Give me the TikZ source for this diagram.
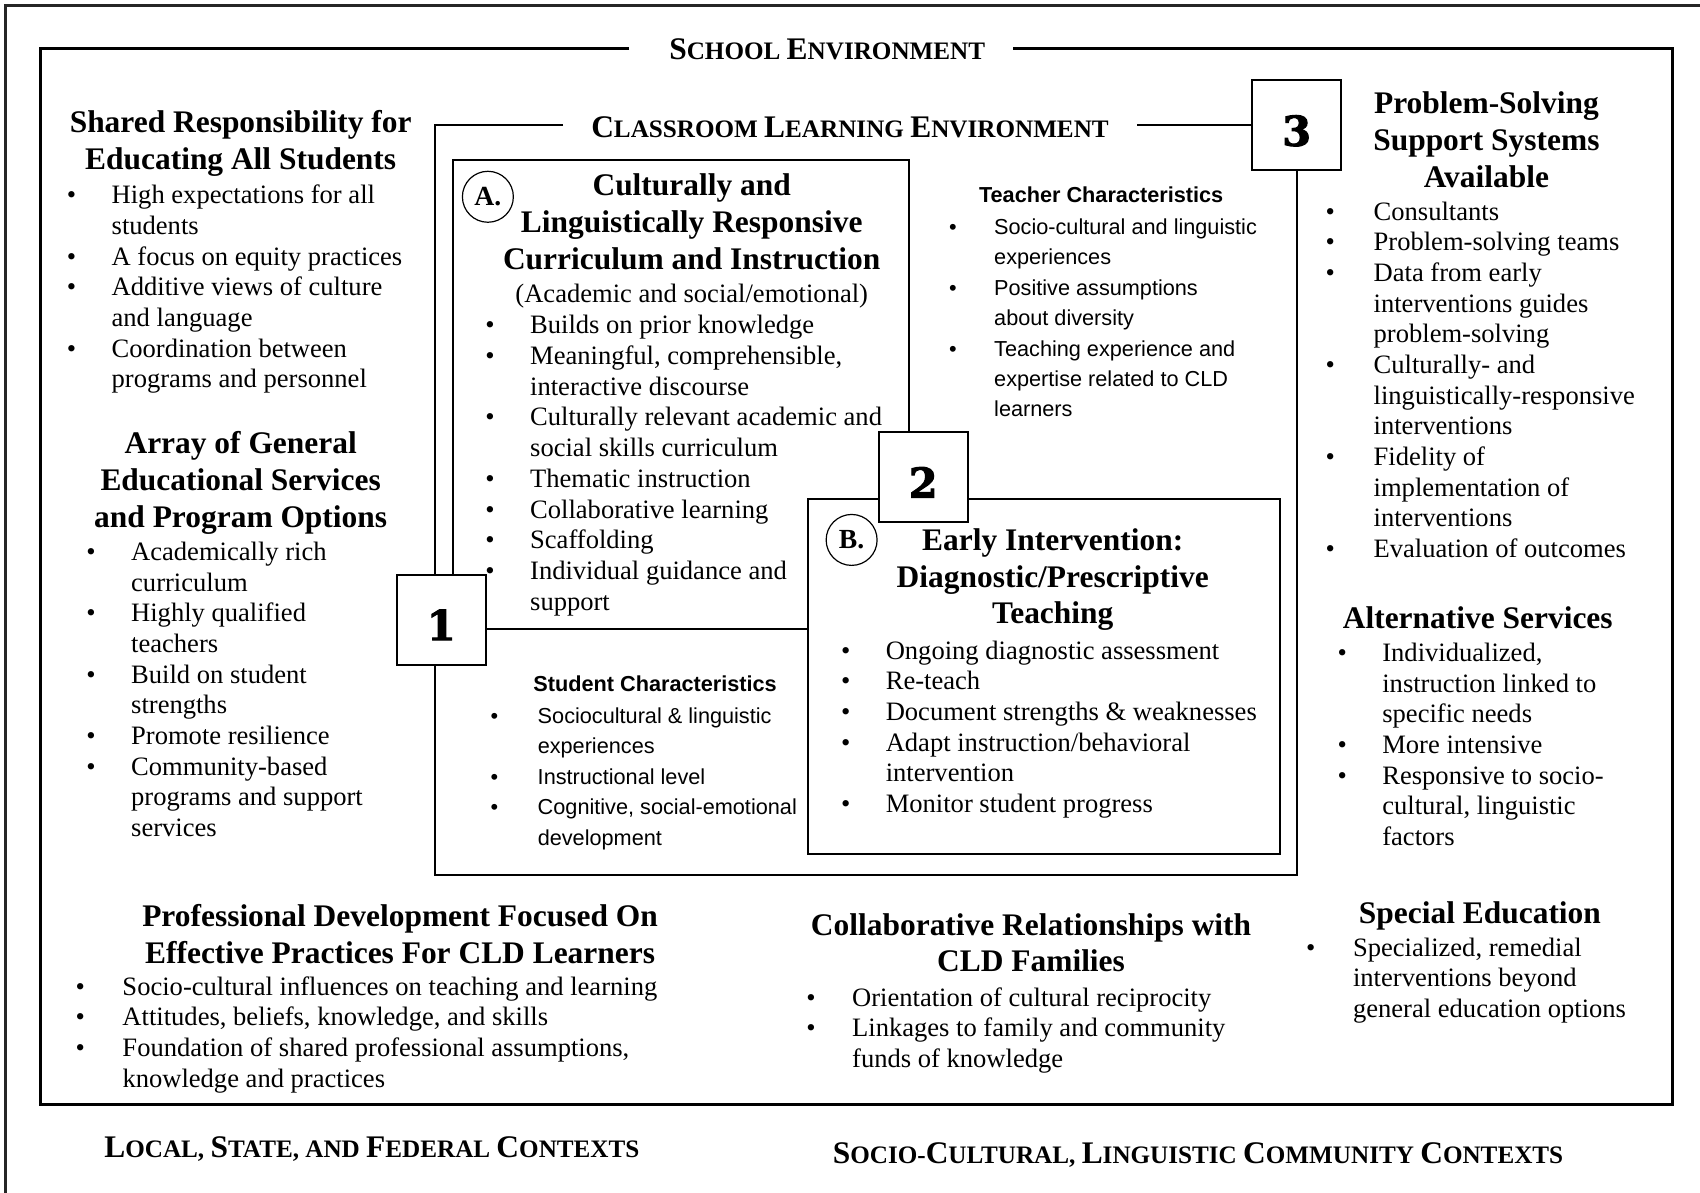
\documentclass[tikz,border=0pt]{standalone}
\usepackage{fontspec}
\setmainfont{Liberation Serif}
\setsansfont{Liberation Sans}
\newfontfamily\numfont{DejaVu Serif}[BoldFeatures={FakeBold=2.5}]
\usetikzlibrary{calc}

% bullet hung to the left of the text column
\newlength\bd
\newcommand\bu{\llap{\makebox[0pt]{\textbullet}\hspace{\bd}}}
% hand-made small capitals
\newcommand\sca[2]{{\fontsize{29}{34}\selectfont #1}{\fontsize{23.2}{34}\selectfont #2}}

\tikzset{
  every node/.style={inner sep=0pt, outer sep=0pt},
  body/.style={anchor=base west, font=\fontsize{24.5}{28.3}\selectfont},
  cbody/.style={anchor=base, font=\fontsize{24.5}{28.3}\selectfont},
  head/.style={anchor=base, font=\bfseries\fontsize{29}{34}\selectfont},
  sbody/.style={anchor=base west, font=\sffamily\fontsize{20}{28.1}\selectfont},
  shead/.style={anchor=base west, font=\sffamily\bfseries\fontsize{20}{28}\selectfont},
  ttl/.style={anchor=base, font=\bfseries, inner xsep=32pt},
  numbox/.style={draw, line width=1.8pt, fill=white, minimum width=82pt,
    minimum height=83pt, text height=38pt, text depth=0pt,
    font=\numfont\bfseries\fontsize{38}{40}\selectfont},
  letter/.style={draw, circle, line width=1.1pt, minimum size=47pt,
    font=\bfseries\fontsize{25.5}{28}\selectfont},
  outerline/.style={line width=2pt, black!85},
  schoolline/.style={line width=2.8pt},
  classline/.style={line width=2.2pt},
  boxline/.style={line width=1.8pt},
}

\begin{document}
\begin{tikzpicture}[x=1pt, y=-1pt]
\useasboundingbox (0,0) rectangle (1568,1100);

% ---------- corner points of the frames ----------
\coordinate (oNW) at (5,5);
\coordinate (oNE) at (1600,5);
\coordinate (oSW) at (5,1120);
\coordinate (sNW) at (37,45);
\coordinate (sNE) at (1543,45);
\coordinate (sSW) at (37,1019);
\coordinate (sSE) at (1543,1019);
\coordinate (cNW) at (401,115.5);
\coordinate (cSW) at (401,807);
\coordinate (cSE) at (1196,807);
\coordinate (aNW) at (418,148);
\coordinate (aNE) at (838,148);
\coordinate (aSW) at (418,580);
\coordinate (bNW) at (745,460);
\coordinate (bSE) at (1181,788);

% ---------- titles ----------
\node[ttl, inner xsep=26pt] (schoolT) at (763,54.5) {\sca{S}{CHOOL }\sca{E}{NVIRONMENT}};
\node[ttl, inner xsep=26pt] (classT) at (784,126.5) {\sca{C}{LASSROOM }\sca{L}{EARNING }\sca{E}{NVIRONMENT}};
\node[ttl] (localT) at (343,1067.5) {\sca{L}{OCAL, }\sca{S}{TATE, AND }\sca{F}{EDERAL }\sca{C}{ONTEXTS}};
\node[ttl] (socioT) at (1105,1073.5) {\sca{S}{OCIO-}\sca{C}{ULTURAL, }\sca{L}{INGUISTIC }\sca{C}{OMMUNITY }\sca{C}{ONTEXTS}};

% ---------- numbered boxes ----------
\node[numbox] (n1) at (407,571.5) {1};
\node[numbox] (n2) at (851.5,440) {2};
\node[numbox] (n3) at (1196,115.5) {3};

% ---------- frames ----------
\draw[outerline] (oNE) -- (oNW) -- (oSW);
\draw[schoolline] ($(schoolT.west |- sNW)+(-11,0)$) -- (sNW) -- (sSW) -- (sSE) -- (sNE) -- (schoolT.east |- sNE);
\draw[classline] (classT.west |- cNW) -- (cNW) -- (cNW |- n1.north);
\draw[classline] (cNW |- n1.south) -- (cSW) -- (cSE) -- (n3.south);
\draw[classline] (n3.west) -- (classT.east |- n3.west);
\draw[boxline] (aNW |- n1.north) -- (aNW) -- (aNE) -- (aNE |- n2.north);
\draw[boxline] (n1.east |- aSW) -- (bNW |- aSW);
\draw[boxline] (n2.west |- bNW) -- (bNW) -- (bNW |- bSE) -- (bSE) -- (bSE |- bNW) -- (n2.east |- bNW);

% ---------- circled letters ----------
\node[letter] (cA) at (450,181.5) {A.};
\node[letter] (cB) at (785.5,498) {B.};

% ---------- left column ----------
\node[head] (h1) at (222,122.5) {\begin{tabular}[t]{@{}c@{}}Shared Responsibility for\\Educating All Students\end{tabular}};
\node[body] (l1) at (103,188) {\setlength\bd{37pt}\begin{tabular}[t]{@{}l@{}}
\bu High expectations for all\\
students\\
\bu A focus on equity practices\\
\bu Additive views of culture\\
and language\\
\bu Coordination between\\
programs and personnel\end{tabular}};

\node[head] (h2) at (222,418.5) {\begin{tabular}[t]{@{}c@{}}Array of General\\Educational Services\\and Program Options\end{tabular}};
\node[body] (l2) at (121,517) {\setlength\bd{37pt}\begin{tabular}[t]{@{}l@{}}
\bu Academically rich\\
curriculum\\
\bu Highly qualified\\
teachers\\
\bu Build on student\\
strengths\\
\bu Promote resilience\\
\bu Community-based\\
programs and support\\
services\end{tabular}};

% ---------- box A ----------
\node[head] (hA) at (638,180.5) {\begin{tabular}[t]{@{}c@{}}Culturally and\\Linguistically Responsive\\Curriculum and Instruction\end{tabular}};
\node[cbody] (sA) at (638,279) {(Academic and social/emotional)};
\node[body] (lA) at (489,308) {\setlength\bd{37pt}\begin{tabular}[t]{@{}l@{}}
\bu Builds on prior knowledge\\
\bu Meaningful, comprehensible,\\
interactive discourse\\
\bu Culturally relevant academic and\\
social skills curriculum\\
\bu Thematic instruction\\
\bu Collaborative learning\\
\bu Scaffolding\\
\bu Individual guidance and\\
support\end{tabular}};

% ---------- teacher and student characteristics ----------
\node[shead] (hT) at (903,187) {Teacher Characteristics};
\node[sbody] (lT) at (917,216) {\setlength\bd{38pt}\begin{tabular}[t]{@{}l@{}}
\bu Socio-cultural and linguistic\\
experiences\\
\bu Positive assumptions\\
about diversity\\
\bu Teaching experience and\\
expertise related to CLD\\
learners\end{tabular}};

\node[shead] (hS) at (492,638) {Student Characteristics};
\node[sbody] (lS) at (496,667) {\setlength\bd{40pt}\begin{tabular}[t]{@{}l@{}}
\bu Sociocultural \& linguistic\\
experiences\\
\bu Instructional level\\
\bu Cognitive, social-emotional\\
development\end{tabular}};

% ---------- box B ----------
\node[head] (hB) at (971,507.5) {\begin{tabular}[t]{@{}c@{}}Early Intervention:\\Diagnostic/Prescriptive\\Teaching\end{tabular}};
\node[body] (lB) at (817,608) {\setlength\bd{37pt}\begin{tabular}[t]{@{}l@{}}
\bu Ongoing diagnostic assessment\\
\bu Re-teach\\
\bu Document strengths \& weaknesses\\
\bu Adapt instruction/behavioral\\
intervention\\
\bu Monitor student progress\end{tabular}};

% ---------- right column ----------
\node[head] (hR) at (1371,104.5) {\begin{tabular}[t]{@{}c@{}}Problem-Solving\\Support Systems\\Available\end{tabular}};
\node[body] (lR) at (1267,203) {\setlength\bd{40pt}\begin{tabular}[t]{@{}l@{}}
\bu Consultants\\
\bu Problem-solving teams\\
\bu Data from early\\
interventions guides\\
problem-solving\\
\bu Culturally- and\\
linguistically-responsive\\
interventions\\
\bu Fidelity of\\
implementation of\\
interventions\\
\bu Evaluation of outcomes\end{tabular}};

\node[head] (hAlt) at (1363,579.5) {Alternative Services};
\node[body] (lAlt) at (1275,610) {\setlength\bd{37pt}\begin{tabular}[t]{@{}l@{}}
\bu Individualized,\\
instruction linked to\\
specific needs\\
\bu More intensive\\
\bu Responsive to socio-\\
cultural, linguistic\\
factors\end{tabular}};

\node[head] (hSp) at (1365,851.5) {Special Education};
\node[body] (lSp) at (1248,882) {\setlength\bd{39pt}\begin{tabular}[t]{@{}l@{}}
\bu Specialized, remedial\\
interventions beyond\\
general education options\end{tabular}};

% ---------- bottom row ----------
\node[head] (hP) at (369,854.5) {\begin{tabular}[t]{@{}c@{}}Professional Development Focused On\\Effective Practices For CLD Learners\end{tabular}};
\node[body] (lP) at (113,918) {\setlength\bd{39pt}\begin{tabular}[t]{@{}l@{}}
\bu Socio-cultural influences on teaching and learning\\
\bu Attitudes, beliefs, knowledge, and skills\\
\bu Foundation of shared professional assumptions,\\
knowledge and practices\end{tabular}};

\node[head] (hC) at (951,862.5) {\begin{tabular}[t]{@{}c@{}}Collaborative Relationships with\\CLD Families\end{tabular}};
\node[body] (lC) at (786,928) {\setlength\bd{38pt}\begin{tabular}[t]{@{}l@{}}
\bu Orientation of cultural reciprocity\\
\bu Linkages to family and community\\
funds of knowledge\end{tabular}};
\end{tikzpicture}
\end{document}
